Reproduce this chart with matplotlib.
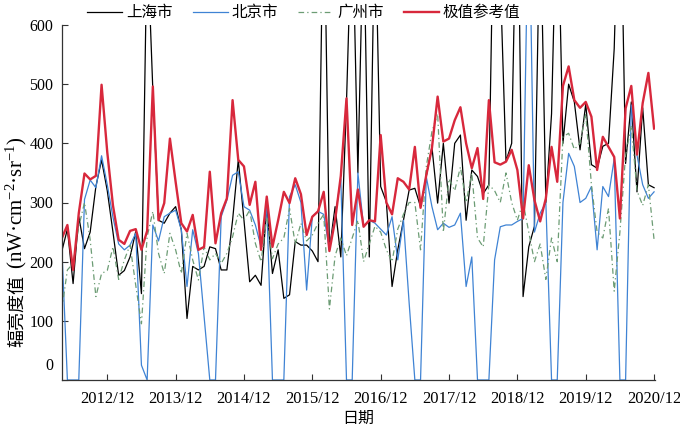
import matplotlib
matplotlib.use("Agg")
import matplotlib.pyplot as plt
import matplotlib.transforms as mtransforms
import numpy as np

# Monthly data, 2012/04 .. 2020/12 (105 months)
shanghai = [217, 255, 163, 276, 222, 250, 327, 372, 320, 250, 177, 185, 208, 251, 146, 750, 490,
            270, 265, 282, 293, 254, 104, 192, 186, 192, 225, 222, 186, 186, 270, 372, 270, 166,
            177, 160, 295, 180, 220, 138, 144, 234, 228, 228, 218, 200, 850, 220, 293, 208, 470,
            800, 350, 780, 208, 800, 327, 301, 158, 220, 270, 321, 324, 293, 344, 394, 299, 400,
            299, 400, 414, 270, 355, 344, 315, 330, 900, 680, 370, 400, 900, 141, 225, 260, 800,
            300, 450, 850, 400, 500, 470, 389, 466, 364, 358, 395, 400, 560, 900, 366, 470, 318,
            460, 330, 325]
beijing = [228, 0, 0, 0, 305, 338, 325, 379, 330, 275, 230, 220, 228, 248, 25, 0, 262,
           235, 276, 282, 287, 254, 158, 254, 214, 107, 0, 0, 276, 304, 346, 352, 293, 287,
           262, 225, 293, 0, 0, 0, 310, 330, 300, 152, 276, 285, 280, 220, 276, 340, 0,
           0, 350, 260, 270, 265, 255, 245, 276, 203, 270, 130, 0, 0, 344, 293, 254, 265,
           258, 262, 282, 158, 208, 0, 0, 0, 203, 259, 262, 262, 268, 273, 840, 250, 282,
           300, 0, 0, 300, 383, 361, 300, 307, 327, 220, 327, 310, 374, 0, 0, 465, 380,
           330, 307, 318]
guangzhou = [118, 186, 197, 259, 300, 237, 141, 180, 185, 225, 170, 203, 228, 160, 95, 242, 285,
             214, 180, 248, 220, 180, 248, 203, 169, 225, 203, 214, 197, 214, 242, 282, 270, 287,
             231, 200, 275, 205, 230, 240, 290, 230, 265, 235, 245, 265, 280, 120, 210, 240, 210,
             240, 270, 200, 230, 260, 250, 220, 200, 255, 280, 300, 300, 220, 360, 420, 450, 250,
             340, 320, 360, 300, 350, 240, 225, 330, 320, 300, 350, 300, 270, 300, 250, 200, 230,
             170, 240, 200, 411, 417, 390, 400, 450, 330, 250, 240, 290, 150, 250, 380, 430, 320,
             295, 330, 237]
reference = [239, 262, 186, 282, 349, 339, 345, 499, 385, 295, 237, 230, 252, 255, 220, 252, 496,
             270, 299, 408, 335, 265, 251, 279, 220, 225, 352, 231, 282, 307, 473, 372, 361, 296,
             335, 220, 310, 225, 270, 318, 299, 341, 314, 245, 276, 285, 318, 218, 270, 345, 476,
             262, 322, 259, 270, 268, 414, 300, 280, 341, 335, 322, 394, 291, 346, 392, 479, 403,
             408, 439, 461, 400, 358, 392, 306, 473, 368, 364, 369, 389, 355, 273, 363, 304, 268,
             307, 394, 335, 497, 530, 473, 460, 470, 445, 355, 411, 394, 377, 273, 459, 497, 381,
             468, 519, 425]
series_names = ["上海市", "北京市", "广州市", "极值参考值"]
tick_labels = ["2012/12", "2013/12", "2014/12", "2015/12", "2016/12",
               "2017/12", "2018/12", "2019/12", "2020/12"]
tick_months = [8, 20, 32, 44, 56, 68, 80, 92, 104]
y_ticks = [0, 100, 200, 300, 400, 500, 600]

plt.rcParams['font.family'] = ['Liberation Serif', 'Noto Sans CJK SC', 'DejaVu Sans']
plt.rcParams['mathtext.fontset'] = 'custom'
plt.rcParams['mathtext.rm'] = 'Liberation Serif'
plt.rcParams['mathtext.it'] = 'Liberation Serif:italic'
plt.rcParams['mathtext.bf'] = 'Liberation Serif:bold'

W, H = 680, 429
fig = plt.figure(figsize=(6.8, 4.29), dpi=100)
ax = fig.add_axes([61.7 / W, 49 / H, (655.5 - 61.7) / W, 355 / H])

x = np.arange(len(reference))
l1, = ax.plot(x, shanghai, color='black', lw=0.9, label=series_names[0])
l2, = ax.plot(x, beijing, color='#3f83d4', lw=0.9, label=series_names[1])
l3, = ax.plot(x, guangzhou, color='#6c9c74', lw=0.9, dashes=(4.5, 2.5, 1, 2.5), label=series_names[2])
l4, = ax.plot(x, reference, color='#d8283c', lw=1.7, label=series_names[3])

ax.set_xlim(0, 104.25)
ax.set_ylim(0, 600)
ax.set_xticks(tick_months)
ax.set_xticklabels(tick_labels)
ax.set_yticks(y_ticks)
ax.set_yticklabels([str(v) for v in y_ticks])
ax.tick_params(axis='both', direction='in', length=4, width=0.8, colors='#333333')
ax.tick_params(axis='x', labelsize=12, pad=8, labelcolor='black')
ax.tick_params(axis='y', labelsize=11.5, pad=6, labelcolor='black')
for s in ['top', 'right']:
    ax.spines[s].set_visible(False)
for s in ['left', 'bottom']:
    ax.spines[s].set_color('#333333')
    ax.spines[s].set_linewidth(0.9)

# the "0" label sits higher than its tick in the reference
lab0 = ax.get_yticklabels()[0]
lab0.set_transform(lab0.get_transform() + mtransforms.ScaledTranslation(0, 0.16, fig.dpi_scale_trans))

ax.set_xlabel("日期", fontsize=11.5, labelpad=3)

# y label: CJK part + unit part (mathtext) placed one after the other
xb = 22 / W
t1 = fig.text(xb, 1 - 347 / H, "辐亮度值", rotation=90, rotation_mode='anchor',
              ha='left', va='baseline', fontsize=13)
fig.canvas.draw()
bb = t1.get_window_extent()
t2 = fig.text(xb, (bb.y1 + 1) / H, r" (nW·cm$^{-2}$·sr$^{-1}$)", rotation=90, rotation_mode='anchor',
              ha='left', va='baseline', fontsize=15)

fig.legend(handles=[l1, l2, l3, l4], loc='center left', bbox_to_anchor=(87 / W, 1 - 13 / H),
           ncol=4, frameon=False, fontsize=11.2, handlelength=2.25, handletextpad=0.25,
           columnspacing=1.3, borderpad=0, borderaxespad=0)

fig.savefig("out.png", dpi=100)
